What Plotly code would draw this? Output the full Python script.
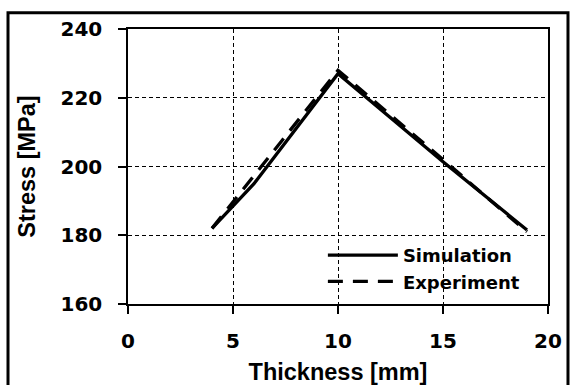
import plotly.graph_objects as go

sim_x = [4, 6, 10, 15, 19]
sim_y = [182, 195, 227, 201.4, 181.5]
exp_x = [4, 5, 10, 15, 19]
exp_y = [182, 189.7, 228, 202, 181]

x_ticks = [0, 5, 10, 15, 20]
y_ticks = [160, 180, 200, 220, 240]

tickfont = dict(family="DejaVu Sans", size=20, color="black", weight="bold")
titlefont = dict(family="Liberation Sans", size=23.5, color="black", weight="bold")

fig = go.Figure()
fig.add_trace(go.Scatter(x=sim_x, y=sim_y, mode="lines", name="Simulation",
                         legendgroup="a",
                         line=dict(color="black", width=3.3)))
fig.add_trace(go.Scatter(x=exp_x, y=exp_y, mode="lines", name="Experiment",
                         legendgroup="b",
                         line=dict(color="black", width=3.3, dash="15px,10px")))

fig.update_layout(
    width=571, height=385,
    margin=dict(l=128, r=23, t=29, b=81),
    paper_bgcolor="white", plot_bgcolor="white",
    showlegend=True,
    legend=dict(x=0.464, y=0.015, xanchor="left", yanchor="bottom",
                bgcolor="rgba(0,0,0,0)", itemwidth=70,
                font=dict(family="DejaVu Sans", size=18, color="black", weight="bold"),
                tracegroupgap=2, traceorder="normal"),
    shapes=[dict(type="rect", xref="paper", yref="paper",
                 x0=-0.2857, x1=1.0476, y0=-0.35, y1=1.059,
                 line=dict(color="black", width=3), layer="above")],
)

fig.update_xaxes(range=[0, 20], tickvals=x_ticks, ticktext=[str(v) for v in x_ticks],
                 showline=True, linecolor="black", linewidth=1.5, mirror=True,
                 ticks="outside", ticklen=8, tickcolor="black", tickwidth=1.5,
                 showgrid=True, gridcolor="black", gridwidth=1, griddash="4px,3px",
                 zeroline=False, tickfont=tickfont, ticklabelstandoff=10,
                 automargin=False,
                 title=dict(text="Thickness [mm]", font=titlefont, standoff=14))
fig.update_yaxes(range=[160, 240], tickvals=y_ticks, ticktext=[str(v) for v in y_ticks],
                 showline=True, linecolor="black", linewidth=1.5, mirror=True,
                 ticks="outside", ticklen=8, tickcolor="black", tickwidth=1.5,
                 showgrid=True, gridcolor="black", gridwidth=1, griddash="4px,3px",
                 zeroline=False, tickfont=tickfont, ticklabelstandoff=12,
                 automargin=False,
                 title=dict(text="Stress [MPa]", font=titlefont, standoff=18))

fig.write_html("out.html")
